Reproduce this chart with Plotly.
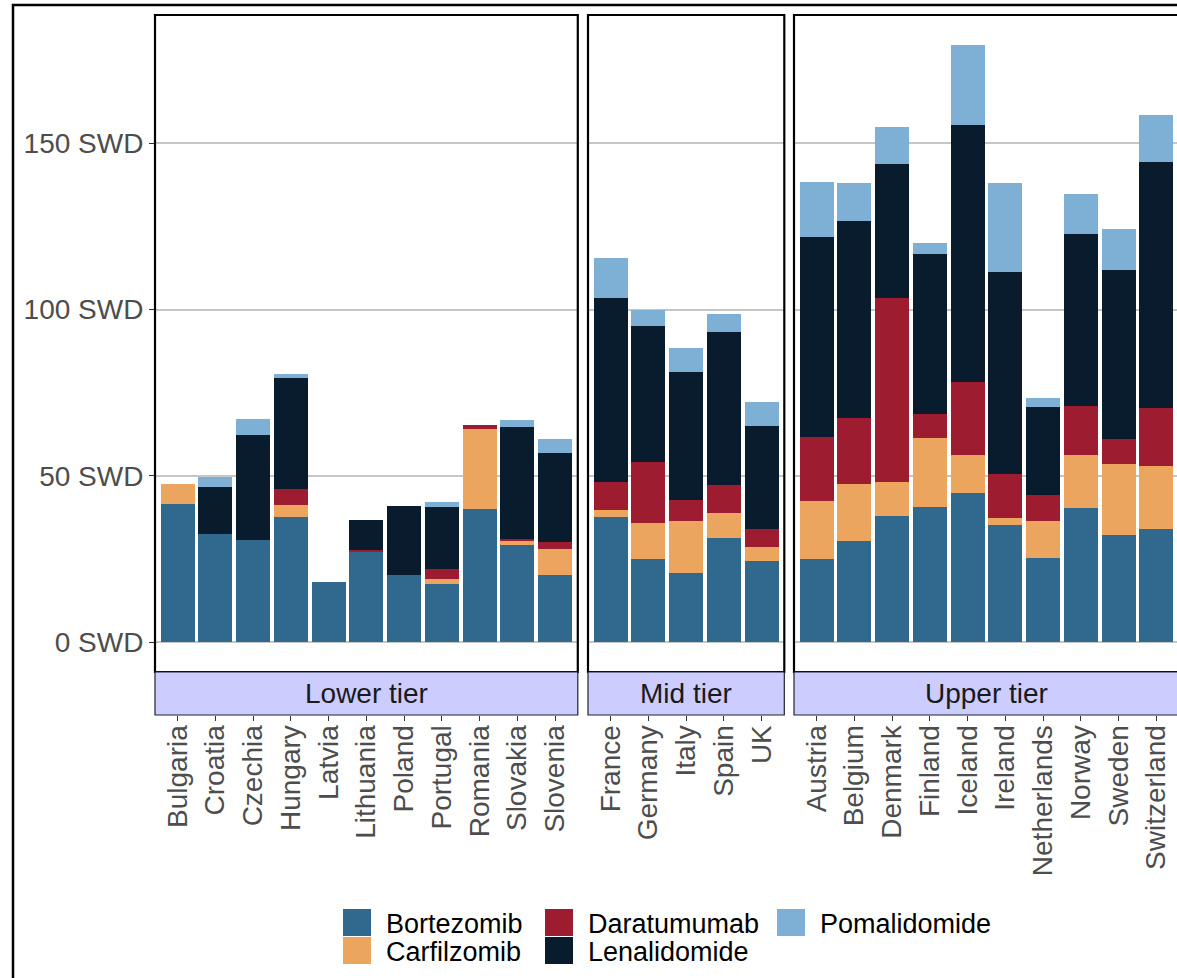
import plotly.graph_objects as go

# ---- data -------------------------------------------------------------
countries = [
    "Bulgaria", "Croatia", "Czechia", "Hungary", "Latvia", "Lithuania",
    "Poland", "Portugal", "Romania", "Slovakia", "Slovenia",
    "France", "Germany", "Italy", "Spain", "UK",
    "Austria", "Belgium", "Denmark", "Finland", "Iceland", "Ireland",
    "Netherlands", "Norway", "Sweden", "Switzerland",
]
tiers = ["Lower tier"] * 11 + ["Mid tier"] * 5 + ["Upper tier"] * 10
tier_order = ["Lower tier", "Mid tier", "Upper tier"]

bortezomib = [41.5, 32.5, 30.7, 37.6, 18.1, 27.4, 20.2, 17.5, 40.0, 29.2, 20.2,
              37.6, 25.0, 20.8, 31.3, 24.4,
              24.9, 30.4, 37.9, 40.6, 44.8, 35.1, 25.2, 40.2, 32.1, 33.9]
carfilzomib = [6.0, 0, 0, 3.6, 0, 0, 0, 1.5, 24.0, 1.2, 7.8,
               2.1, 10.8, 15.6, 7.5, 4.2,
               17.5, 17.1, 10.4, 20.7, 11.4, 2.2, 11.1, 16.0, 21.4, 19.0]
daratumumab = [0, 0, 0, 4.8, 0, 0.4, 0, 3.0, 1.2, 0.6, 2.1,
               8.4, 18.3, 6.3, 8.4, 5.4,
               19.3, 19.9, 55.2, 7.3, 22.0, 13.2, 7.9, 14.8, 7.6, 17.5]
lenalidomide = [0, 14.1, 31.5, 33.3, 0, 8.9, 20.7, 18.6, 0, 33.6, 26.7,
                55.5, 41.1, 38.4, 46.2, 30.9,
                60.1, 59.3, 40.3, 48.1, 77.4, 60.8, 26.5, 51.7, 50.8, 74.0]
pomalidomide = [0, 3.0, 4.8, 1.2, 0, 0, 0, 1.5, 0, 2.1, 4.2,
                12.0, 4.8, 7.2, 5.4, 7.2,
                16.7, 11.4, 11.2, 3.3, 24.0, 26.8, 2.6, 12.1, 12.4, 14.2]

series = [
    ("Bortezomib", bortezomib, "#31688D"),
    ("Carfilzomib", carfilzomib, "#EBA55E"),
    ("Daratumumab", daratumumab, "#9E1C30"),
    ("Lenalidomide", lenalidomide, "#081C2D"),
    ("Pomalidomide", pomalidomide, "#7EAFD5"),
]

y_ticks = [0, 50, 100, 150]
y_ticktext = [f"{v} SWD" for v in y_ticks]

# ---- layout geometry (pixels) ----------------------------------------
W, H = 1177, 978
FONT = "Liberation Sans, Arial, sans-serif"
FS = 28
panel_top, panel_bottom = 15, 672
strip_bottom = 715
unit = 37.75           # pixels per category step
expand = 0.6           # discrete-axis padding in category units
panel_left = {"Lower tier": 155, "Mid tier": 588, "Upper tier": 794}


def px(x):
    return x / W


def py(y):
    return 1 - y / H


totals = [sum(v) for v in zip(bortezomib, carfilzomib, daratumumab,
                              lenalidomide, pomalidomide)]
ymax = max(totals)
y_range = [-0.05 * ymax, 1.05 * ymax]

fig = go.Figure()
shapes = []
annotations = []

for i, tier in enumerate(tier_order):
    idx = [k for k, t in enumerate(tiers) if t == tier]
    cats = [countries[k] for k in idx]
    n = len(cats)
    ax = "" if i == 0 else str(i + 1)
    x0 = panel_left[tier]
    x1 = x0 + (n - 1 + 2 * expand) * unit
    dom_end = min(px(x1), 1.0)
    r_end = -expand + (dom_end * W - x0) / unit

    for name, vals, color in series:
        fig.add_trace(go.Bar(
            x=cats, y=[vals[k] for k in idx], name=name,
            marker=dict(color=color, line=dict(width=0)),
            width=0.9, showlegend=False,
            xaxis="x" + ax, yaxis="y" + ax,
        ))

    fig.update_layout(**{
        "xaxis" + ax: dict(
            domain=[px(x0), dom_end], range=[-expand, r_end],
            type="category", categoryorder="array", categoryarray=cats,
            anchor="free", position=py(strip_bottom),
            showgrid=False, zeroline=False, showline=False,
            ticks="outside", ticklen=5, tickwidth=1.2, tickcolor="#333333",
            tickangle=-90, ticklabelstandoff=-7,
            tickfont=dict(family=FONT, size=FS, color="#4D4D4D"),
        ),
        "yaxis" + ax: dict(
            domain=[py(panel_bottom), py(panel_top)], range=y_range,
            anchor="x" + ax,
            tickmode="array", tickvals=y_ticks, ticktext=y_ticktext,
            showticklabels=(i == 0),
            ticks="outside" if i == 0 else "", ticklen=5, tickwidth=1.2,
            tickcolor="#333333",
            tickfont=dict(family=FONT, size=FS, color="#4D4D4D"),
            showgrid=True, gridcolor="#C6C6C6", gridwidth=1.6,
            zeroline=False, showline=False,
        ),
    })

    # panel border
    shapes.append(dict(type="rect", xref="paper", yref="paper",
                       x0=px(x0), x1=px(x1), y0=py(panel_bottom), y1=py(panel_top),
                       line=dict(color="black", width=2.2), layer="above"))
    # facet strip
    shapes.append(dict(type="rect", xref="paper", yref="paper",
                       x0=px(x0), x1=px(x1), y0=py(strip_bottom), y1=py(panel_bottom),
                       fillcolor="#CCCCFF", line=dict(color="#1C2430", width=1.2)))
    annotations.append(dict(text=tier, xref="paper", yref="paper",
                            x=px((x0 + x1) / 2), y=py((panel_bottom + strip_bottom) / 2),
                            xanchor="center", yanchor="middle", showarrow=False,
                            font=dict(family=FONT, size=FS, color="#1A1A1A")))

# outer frame
shapes.append(dict(type="rect", xref="paper", yref="paper",
                   x0=px(13), x1=px(W + 20), y0=py(H + 20), y1=py(5),
                   line=dict(color="black", width=2.5)))

# legend: three columns, filled column by column
leg_cols = [343, 545, 777]
leg_rows = [909, 937]
key_w, key_h = 28, 27
for j, (name, _, color) in enumerate(series):
    cx = leg_cols[j // 2]
    ry = leg_rows[j % 2]
    shapes.append(dict(type="rect", xref="paper", yref="paper",
                       x0=px(cx), x1=px(cx + key_w), y0=py(ry + key_h), y1=py(ry),
                       fillcolor=color, line=dict(width=0)))
    annotations.append(dict(text=name, xref="paper", yref="paper",
                            x=px(cx + key_w + 13), y=py(ry + key_h / 2 + 1),
                            xanchor="left", yanchor="middle", showarrow=False,
                            font=dict(family=FONT, size=FS - 1, color="black")))

fig.update_layout(
    width=W, height=H,
    margin=dict(l=0, r=0, t=0, b=0),
    barmode="stack", bargap=0,
    paper_bgcolor="white", plot_bgcolor="white",
    shapes=shapes, annotations=annotations,
    showlegend=False,
    font=dict(family=FONT, size=FS),
)

fig.write_html("out.html")
